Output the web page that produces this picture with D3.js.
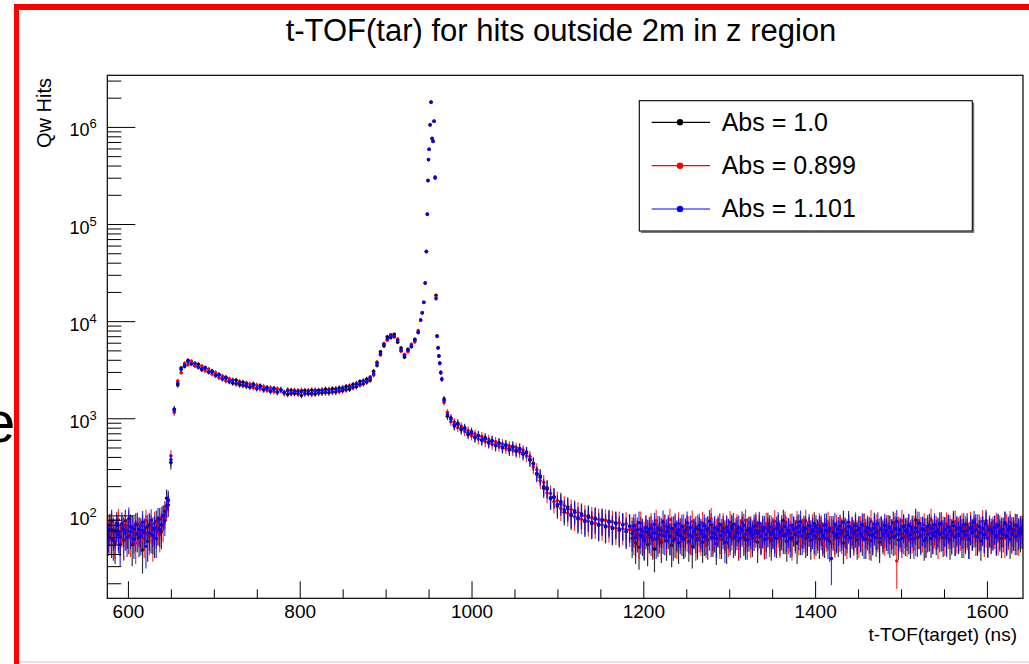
<!DOCTYPE html>
<html><head><meta charset="utf-8">
<script src="https://cdn.jsdelivr.net/npm/d3@7"></script>
<style>body{margin:0;background:#fff;} svg{display:block;font-family:"Liberation Sans",Arial,Helvetica,sans-serif;}</style>
</head><body>
<svg id="c" width="1029" height="664"></svg>
<script>
// ---------------- data ----------------
const titleText = "t-TOF(tar) for hits outside 2m in z region";
const xTitle = "t-TOF(target) (ns)";
const yTitle = "Qw Hits";
const xDomain = [576, 1642];
const yDomain = [14, 3.4e6];
const xMajorTicks = [600, 800, 1000, 1200, 1400, 1600];
const yMajorTicks = [1e2, 1e3, 1e4, 1e5, 1e6];
const seriesNames = ["Abs = 1.0", "Abs = 0.899", "Abs = 1.101"];
const seriesColors = ["#000000", "#ff0000", "#0000ff"];
const hitWeight = 8; // mean event weight -> error = sqrt(weight * hits)

// bin centres (ns)
const xBinsLowBg = d3.range(577, 648, 2);      // 36 bins, 2 ns
const xBinsRise  = d3.range(650, 939, 4);      // 73 bins, 4 ns
const xBinsPeak  = [940.8, 942.6, 944.5, 946.1, 947.4, 948.5, 949.3, 949.9, 950.6, 951.8, 952.9, 954.1, 955.2, 956.4, 957.6, 958.7, 959.9, 961.1, 962.0, 963.0, 964.2, 965.4];
const xBinsTail  = d3.range(968, 1185, 4);     // 55 bins, 4 ns
const xBinsBg    = d3.range(1187, 1642, 2);    // 228 bins, 2 ns

// ---- Abs = 1.0 (black)
const blackLowBg = [64,79,58,71,52,83,67,60,74,56,88,69,62,77,50,72,65,81,59,70,44,66,75,54,80,63,71,58,86,74,92,68,97,110,150,128];
const blackRise = [350,1240,2200,3290,3420,3950,3640,3470,3600,3150,
3330,2980,3070,2740,2830,2540,2650,2380,2300,2470,
2200,2350,2130,2090,2250,2010,2160,1960,2070,1890,
2040,1850,1980,1830,1760,1940,1800,1910,1720,1930,
1790,1950,1780,1940,1820,1990,1830,2010,1860,2050,
1920,2120,1990,2230,2110,2390,2260,2530,2460,3050,
3500,4850,5550,6900,6750,7350,6050,5300,4250,5150,
5450,6500,7600];
const blackPeak = [10300,12200,15700,24800,52500,127000,282000,462000,590000,1052000,1805000,765000,718000,1150000,305000,18500,7100,5350,4400,3700,2960,2540];
const blackTail = [1580,1050,1010,830,890,760,800,680,725,630,
665,590,630,555,590,520,560,495,535,470,
515,455,490,425,450,370,345,265,255,190,
192,148,156,124,138,108,122,99,112,92,
104,86,99,82,94,79,91,76,88,73,
84,70,80,68,78];
const blackBg = [58,70,52,64,47,72,60,55,68,50,
63,74,56,45,66,59,71,53,62,77,
55,68,61,49,73,58,64,52,70,60,
57,66,75,54,62,48,69,63,58,72,
65,53,60,71,56,67,80,59,64,51,
70,62,57,74,66,52,68,61,77,58,
63,72,55,67,84,60,56,70,65,73,
59,66,78,53,69,62,75,57,64,81,
68,55,71,63,58,76,60,67,88,62,
54,70,65,59,73,66,52,78,61,69,
75,58,64,71,56,68,82,60,66,57,
72,63,58,80,67,54,69,74,61,65,
59,77,66,52,71,63,85,58,68,62,
70,56,74,65,60,79,57,67,72,55,
64,81,59,68,53,73,62,70,66,76,
58,67,84,61,72,56,69,64,78,60,
71,62,57,75,66,90,59,68,63,73,
55,70,64,79,58,67,74,61,69,82,
66,59,72,63,77,56,68,85,60,71,
62,75,58,69,64,80,57,73,66,70,
78,61,67,55,72,64,88,59,70,63,
68,74,60,77,65,58,71,83,62,69,
57,72,66,79,61,70,64,75];

// ---- Abs = 0.899 (red)
const redLowBg = [75,61,84,66,57,73,90,62,70,55,79,68,86,59,74,63,52,81,70,65,78,58,88,67,61,76,54,83,69,72,64,95,78,101,118,140];
const redRise = [410,1150,2420,2950,3700,3560,3880,3500,3320,3460,
3080,3220,2850,2960,2610,2720,2420,2550,2480,2250,
2400,2170,2310,2260,2060,2200,2000,2130,1930,2070,
1880,2010,1960,1800,1970,1790,1940,1780,1950,1800,
1930,1760,1960,1810,1970,1830,1990,1850,2030,1880,
2080,1950,2170,2060,2300,2190,2450,2340,2660,2780,
3800,4480,5900,6350,7300,6850,6550,4900,4550,4850,
5800,6100,8000];
const redPeak = [10200,12300,15500,24600,51500,125000,278000,458000,587000,1046000,1795000,755000,708000,1140000,296000,17600,7000,5280,4360,3680,2940,2520];
const redTail = [1450,1150,920,920,800,830,730,750,665,690,
610,650,575,605,540,575,515,545,490,520,
470,500,450,470,410,405,315,295,228,218,
170,168,138,142,118,126,106,115,97,107,
91,99,87,95,83,91,80,89,77,86,
74,84,73,82,71];
const redBg = [72,61,79,66,57,84,68,63,75,59,
67,80,58,71,88,62,74,56,69,77,
63,72,90,60,68,75,57,82,66,70,
78,59,65,73,61,86,69,55,76,64,
60,83,70,58,74,66,92,62,71,68,
75,57,69,80,63,72,59,85,67,61,
70,78,56,68,74,62,89,65,73,58,
66,71,82,60,77,64,69,56,81,72,
59,75,68,87,63,70,58,76,65,84,
73,62,79,55,71,67,85,61,74,69,
64,88,60,72,66,78,57,70,63,80,
76,59,70,65,83,61,74,68,58,77,
67,73,62,86,69,57,75,64,71,60,
82,66,58,74,68,79,63,70,56,87,
61,72,78,64,70,73,68,60,76,66,
74,62,69,81,34,73,65,88,62,70,
59,77,67,63,75,60,84,68,72,64,
80,58,71,66,90,62,69,74,57,78,
65,73,60,82,68,76,61,70,86,63,
71,66,79,58,74,67,62,83,69,75,
60,78,64,72,87,59,70,66,76,62,
73,68,81,61,75,64,70,58,79,67,
85,62,72,66,78,60,74,69];

// ---- Abs = 1.101 (blue)
const blueLowBg = [60,72,88,55,69,78,63,50,82,71,66,59,93,68,75,57,80,64,72,61,85,70,48,77,66,89,62,74,58,92,71,80,99,88,125,145];
const blueRise = [375,1210,2290,3180,3520,3820,3620,3700,3380,3250,
3290,3010,2990,2780,2790,2560,2580,2420,2450,2290,
2330,2200,2250,2120,2190,2050,2110,1990,2040,1930,
1990,1880,1940,1850,1910,1820,1890,1810,1880,1800,
1890,1810,1900,1830,1920,1850,1950,1880,1980,1920,
2030,1990,2120,2100,2250,2240,2400,2390,2600,2880,
3700,4600,5750,6550,7100,7000,6350,5050,4420,5020,
5580,6350,7750];
const bluePeak = [10280,12150,15650,24700,52000,126000,280000,460000,589000,1049000,1796000,758000,712000,1144000,300000,17000,6950,5300,4380,3690,2950,2530];
const blueTail = [1520,1090,975,865,860,785,780,705,705,645,
655,605,615,570,580,535,548,510,522,488,
500,468,478,442,440,380,338,272,246,198,
186,153,152,130,131,114,116,103,107,95,
100,89,95,85,91,81,88,78,85,75,
82,73,80,71,77];
const blueBg = [65,78,59,71,84,62,69,56,75,67,
72,60,66,81,57,74,63,70,86,61,
68,76,61,73,55,80,66,71,62,77,
57,70,84,63,75,60,68,73,56,79,
69,64,78,61,72,87,59,66,74,58,
71,80,62,68,53,76,69,65,73,81,
60,67,75,58,71,79,64,56,72,68,
63,77,70,65,83,61,69,74,57,70,
76,64,68,59,73,82,66,71,62,77,
65,70,58,79,72,63,75,67,86,61,
69,73,60,78,65,71,62,76,68,74,
67,61,79,70,57,74,36,66,81,63,
72,65,70,85,60,68,77,59,73,66,
78,62,71,64,80,57,69,75,63,70,
61,74,67,82,58,72,65,79,70,62,
75,68,60,73,87,64,71,58,76,69,
66,79,63,70,57,74,68,83,61,72,
70,58,76,65,73,62,80,67,71,64,
82,66,71,59,75,69,63,78,60,74,
64,73,68,80,62,70,57,76,67,85,
71,60,77,66,74,63,82,58,72,69,
66,75,62,79,68,71,64,84,60,73,
77,64,70,61,78,67,73,68];

// ---------------- drawing ----------------
const svg = d3.select("#c");
const W = 1029, H = 664;
const L = 107.3, R = 1023, T = 75.3, B = 598.3;
const FONT = '"Liberation Sans",Arial,Helvetica,sans-serif';

svg.append("rect").attr("width", W).attr("height", H).attr("fill", "#fff");

// slide decoration: red frame and stray letter
svg.append("rect").attr("x", 14).attr("y", 4).attr("width", 5).attr("height", H - 4).attr("fill", "#ff0000");
svg.append("rect").attr("x", 14).attr("y", 4).attr("width", W - 14).attr("height", 6).attr("fill", "#ff0000");
svg.append("line").attr("x1", 19).attr("x2", W).attr("y1", 661.8).attr("y2", 661.8).attr("stroke", "#f8c4c4").attr("stroke-width", 1.2);
svg.append("text").attr("x", -17).attr("y", 442).attr("font-size", 58).attr("font-family", FONT).attr("fill", "#000").text("e");

const x = d3.scaleLinear().domain(xDomain).range([L, R]);
const y = d3.scaleLog().domain(yDomain).range([B, T]);

svg.append("defs").append("clipPath").attr("id", "plotclip")
  .append("rect").attr("x", L).attr("y", T).attr("width", R - L).attr("height", B - T);

const centers = xBinsLowBg.concat(xBinsRise, xBinsPeak, xBinsTail, xBinsBg);
const edges = centers.map((c, i) => [
  i > 0 ? (centers[i - 1] + c) / 2 : c - 1,
  i < centers.length - 1 ? (c + centers[i + 1]) / 2 : c + 1
]);
const seriesValues = [
  blackLowBg.concat(blackRise, blackPeak, blackTail, blackBg),
  redLowBg.concat(redRise, redPeak, redTail, redBg),
  blueLowBg.concat(blueRise, bluePeak, blueTail, blueBg)
];
const errOf = v => Math.sqrt(v * hitWeight);

const plot = svg.append("g").attr("clip-path", "url(#plotclip)");
seriesValues.forEach((vals, si) => {
  const col = seriesColors[si];
  const d = centers.map((c, i) => ({ c, v: vals[i], lo: edges[i][0], hi: edges[i][1] }));
  const g = plot.append("g");
  g.selectAll("line.ev").data(d).join("line").attr("class", "ev")
    .attr("x1", p => x(p.c)).attr("x2", p => x(p.c))
    .attr("y1", p => y(Math.max(p.v - errOf(p.v), yDomain[0] * 0.5)))
    .attr("y2", p => y(p.v + errOf(p.v)))
    .attr("stroke", col).attr("stroke-width", 1.2).attr("stroke-opacity", 0.8);
  g.selectAll("line.eh").data(d).join("line").attr("class", "eh")
    .attr("x1", p => x(p.lo)).attr("x2", p => x(p.hi))
    .attr("y1", p => y(p.v)).attr("y2", p => y(p.v))
    .attr("stroke", col).attr("stroke-width", 1.2).attr("stroke-opacity", 0.8);
  g.selectAll("circle").data(d).join("circle")
    .attr("cx", p => x(p.c)).attr("cy", p => y(p.v)).attr("r", 1.7)
    .attr("fill", col);
});

// axes
const xMinorTicks = d3.range(600, 1641, 50).filter(v => !xMajorTicks.includes(v));
const xAxisG = svg.append("g").attr("transform", `translate(0,${B})`)
  .call(d3.axisBottom(x).tickValues(xMajorTicks).tickFormat(d3.format("d")).tickSizeInner(-17).tickSizeOuter(0).tickPadding(6.5))
  .call(g => g.select(".domain").remove())
  .attr("font-family", FONT).attr("font-size", 19);
xAxisG.selectAll(".tick line").attr("stroke", "#000");
xAxisG.selectAll(".tick text").attr("fill", "#000");
svg.append("g").attr("transform", `translate(0,${B})`)
  .call(d3.axisBottom(x).tickValues(xMinorTicks).tickFormat(() => "").tickSizeInner(-9).tickSizeOuter(0))
  .call(g => g.select(".domain").remove())
  .selectAll(".tick line").attr("stroke", "#000");

const yMinorTicks = [];
[10, 100, 1000, 1e4, 1e5, 1e6].forEach(dec => {
  for (let k = 2; k <= 9; k++) {
    const v = k * dec;
    if (v >= yDomain[0] && v <= yDomain[1]) yMinorTicks.push(v);
  }
});
const yAxisG = svg.append("g").attr("transform", `translate(${L},0)`)
  .call(d3.axisLeft(y).tickValues(yMajorTicks).tickSizeInner(-28).tickSizeOuter(0).tickPadding(10.6))
  .call(g => g.select(".domain").remove())
  .attr("font-family", FONT).attr("font-size", 18);
yAxisG.selectAll(".tick line").attr("stroke", "#000");
yAxisG.selectAll(".tick text").each(function (dv) {
  const t = d3.select(this);
  t.text(null).attr("dy", 9).attr("fill", "#000");
  t.append("tspan").text("10");
  t.append("tspan").attr("dy", -8).attr("font-size", 13).text(Math.round(Math.log10(dv)));
});
svg.append("g").attr("transform", `translate(${L},0)`)
  .call(d3.axisLeft(y).tickValues(yMinorTicks).tickFormat(() => "").tickSizeInner(-14).tickSizeOuter(0))
  .call(g => g.select(".domain").remove())
  .selectAll(".tick line").attr("stroke", "#000");

// frame
svg.append("rect").attr("x", L).attr("y", T).attr("width", R - L).attr("height", B - T)
  .attr("fill", "none").attr("stroke", "#000").attr("stroke-width", 1.2);

// titles
svg.append("text").attr("x", 561).attr("y", 41).attr("text-anchor", "middle")
  .attr("font-family", FONT).attr("font-size", 31).attr("fill", "#000").text(titleText);
svg.append("text").attr("x", 1017).attr("y", 641).attr("text-anchor", "end")
  .attr("font-family", FONT).attr("font-size", 19).attr("fill", "#000").text(xTitle);
svg.append("text").attr("transform", "translate(50.5,78) rotate(-90)").attr("text-anchor", "end")
  .attr("font-family", FONT).attr("font-size", 20).attr("fill", "#000").text(yTitle);

// legend
const lg = svg.append("g");
lg.append("line").attr("x1", 973.5).attr("x2", 973.5).attr("y1", 102.5).attr("y2", 232.5).attr("stroke", "#777").attr("stroke-width", 1.5);
lg.append("line").attr("x1", 641).attr("x2", 974).attr("y1", 232.3).attr("y2", 232.3).attr("stroke", "#777").attr("stroke-width", 1.5);
lg.append("rect").attr("x", 639.3).attr("y", 100.7).attr("width", 333).attr("height", 130.3)
  .attr("fill", "#fff").attr("stroke", "#000").attr("stroke-width", 1.1);
const rowY = [122.3, 165.7, 209];
seriesNames.forEach((name, i) => {
  lg.append("line").attr("x1", 651.7).attr("x2", 710).attr("y1", rowY[i]).attr("y2", rowY[i])
    .attr("stroke", seriesColors[i]).attr("stroke-width", 1.2);
  lg.append("circle").attr("cx", 680).attr("cy", rowY[i]).attr("r", 3.2).attr("fill", seriesColors[i]);
  lg.append("text").attr("x", 721.7).attr("y", rowY[i] + 8.3)
    .attr("font-family", FONT).attr("font-size", 25).attr("fill", "#000").text(name);
});
</script>
</body></html>
